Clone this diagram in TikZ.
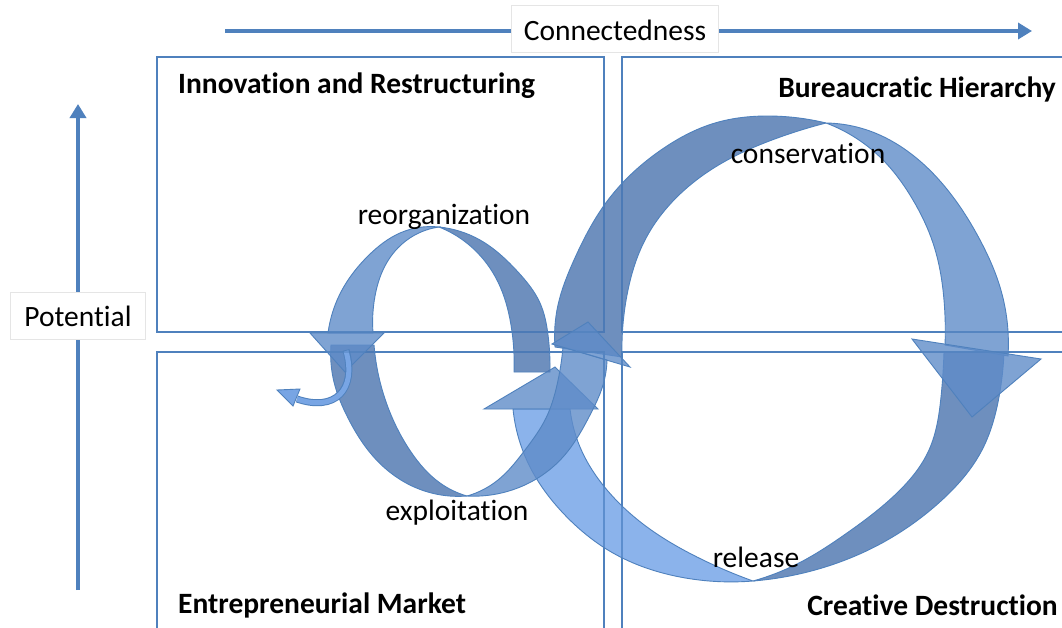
\documentclass[tikz,border=0pt]{standalone}
\usepackage{fontspec}
\setmainfont{Carlito}[Ligatures=NoCommon]
\usetikzlibrary{arrows.meta,hobby}
\definecolor{edgeblue}{RGB}{79,129,189}
\definecolor{ribL}{RGB}{95,140,201}
\definecolor{ribD}{RGB}{74,115,174}
\definecolor{ribB}{RGB}{111,161,230}
\definecolor{curlyc}{RGB}{120,165,228}
\begin{document}
\begin{tikzpicture}[x=1pt,y=-1pt,
  quad/.style={draw=edgeblue, line width=1.4pt},
  quadover/.style={draw=edgeblue, line width=1.2pt, draw opacity=0.45},
  ribbonlight/.style={fill=ribL, fill opacity=0.8, draw=edgeblue, line width=0.9pt},
  ribbondark/.style={fill=ribD, fill opacity=0.8, draw=edgeblue, line width=0.9pt},
  ribbonbright/.style={fill=ribB, fill opacity=0.8, draw=edgeblue, line width=0.9pt},
  lbl/.style={font=\fontsize{29.5}{34}\selectfont, inner sep=0pt},
  ttl/.style={font=\bfseries\fontsize{29.5}{34}\selectfont, inner sep=0pt},
  axisbox/.style={fill=white, draw=black!10, line width=0.8pt, inner sep=0pt},
  axisline/.style={draw=edgeblue, line width=4pt, -{Triangle[length=14pt,width=16pt]}}
]
\useasboundingbox (0,0) rectangle (1062,627);
\fill[white] (0,0) rectangle (1062,627);

% quadrants
\draw[quad] (157,57) rectangle (604,332);
\draw[quad] (622,57) rectangle (1075,332);
\draw[quad] (157,352) rectangle (604,640);
\draw[quad] (622,352) rectangle (1075,640);

% axes
\coordinate (cstart) at (225,31);
\coordinate (cend) at (1032,31);
\draw[axisline] (cstart) -- (cend);
\node[axisbox, minimum width=207pt, minimum height=47pt] (conn) at (615,29) {};
\node[lbl, anchor=base] (conntext) at (615,40) {Connectedness};

\coordinate (pstart) at (78,590);
\coordinate (pend) at (78,104);
\draw[axisline, line width=3.5pt] (pstart) -- (pend);
\node[axisbox, minimum width=135pt, minimum height=47pt] (pot) at (78,316) {};
\node[lbl, anchor=base] (pottext) at (78,326) {Potential};

% titles
\node[ttl, anchor=base west] (tl) at (178,93) {Innovation and Restructuring};
\node[ttl, anchor=base east] (tr) at (1056,97) {Bureaucratic Hierarchy};
\node[ttl, anchor=base west] (bl) at (178,613) {Entrepreneurial Market};
\node[ttl, anchor=base east] (br) at (1058,615) {Creative Destruction};

% release (big loop, lower half)
\filldraw[ribbondark] (753,581) to[curve through={(815,570) (882,543) (942,500) (982,450) (999,397)}] (1004,352)
  -- (944,352) to[curve through={(941,397) (929,450) (897,493) (847,533) (797,564)}] (753,581) -- cycle;
\filldraw[ribbonbright] (753,581) to[curve through={(680,577) (613,553) (563,513) (530,467)}] (513,409)
  -- (570,409) to[curve through={(580,447) (607,490) (647,527) (697,557)}] (753,581) -- cycle;
\filldraw[ribbonlight] (484,409) -- (598,409) -- (555,367) -- cycle;

% conservation (big loop, upper half)
\filldraw[ribbondark] (826,123) to[curve through={(768,116) (715,123) (661,150) (608,200) (574,260) (558,305)}] (555,347)
  -- (622,357) to[curve through={(627,295) (645,240) (679,195) (722,163) (772,140)}] (826,123) -- cycle;
\filldraw[ribbonlight] (826,123) to[curve through={(867,130) (910,153) (950,193) (980,240) (1000,287)}] (1008,356)
  -- (945,345) to[curve through={(944,300) (933,243) (913,200) (883,160)}] (826,123) -- cycle;
\filldraw[ribbonlight] (912,339) -- (1041,359) -- (972,417) -- cycle;

% exploitation (small loop, lower half)
\filldraw[ribbondark] (467,496) to[curve through={(412,486) (372,455) (348,418) (334,382)}] (331,345)
  -- (374,345) to[curve through={(389,410) (411,452) (440,483)}] (467,496) -- cycle;
\filldraw[ribbonlight] (467,496) to[curve through={(515,489) (563,457) (590,415) (603,385)}] (607,360)
  -- (563,347) to[curve through={(557,385) (546,418) (525,450) (498,480)}] (467,496) -- cycle;
\filldraw[ribbonlight] (552,344) -- (630,367) -- (588,322) -- cycle;

% reorganization (small loop, upper half)
\filldraw[ribbondark] (439,227) to[curve through={(480,240) (518,272) (540,303) (548,335)}] (550,372)
  -- (514,372) to[curve through={(511,325) (498,282) (468,244)}] (439,227) -- cycle;
\filldraw[ribbonlight] (439,227) to[curve through={(400,233) (368,256) (342,290)}] (328,333)
  -- (373,333) to[curve through={(375,296) (386,264) (407,240)}] (439,227) -- cycle;
\filldraw[ribbonlight] (310,333) -- (384,333) -- (345,372) -- cycle;

% small escape arrow
\draw[edgeblue, line width=7pt] (346,350) .. controls (357,390) and (335,412) .. (297,399);
\draw[curlyc, line width=5pt] (346,351) .. controls (357,390) and (335,412) .. (297,399);
\filldraw[fill=curlyc, draw=edgeblue, line width=0.9pt] (300,389) -- (293,406) -- (277,390) -- cycle;

% quadrant lines seen through the ribbons
\draw[quadover] (157,57) rectangle (604,332);
\draw[quadover] (622,57) rectangle (1075,332);
\draw[quadover] (157,352) rectangle (604,640);
\draw[quadover] (622,352) rectangle (1075,640);

% stage labels
\node[lbl, anchor=base] (reorg) at (444,224) {reorganization};
\node[lbl, anchor=base] (expl) at (457,520) {exploitation};
\node[lbl, anchor=base] (cons) at (808,163) {conservation};
\node[lbl, anchor=base] (rel) at (756,567) {release};
\end{tikzpicture}
\end{document}
